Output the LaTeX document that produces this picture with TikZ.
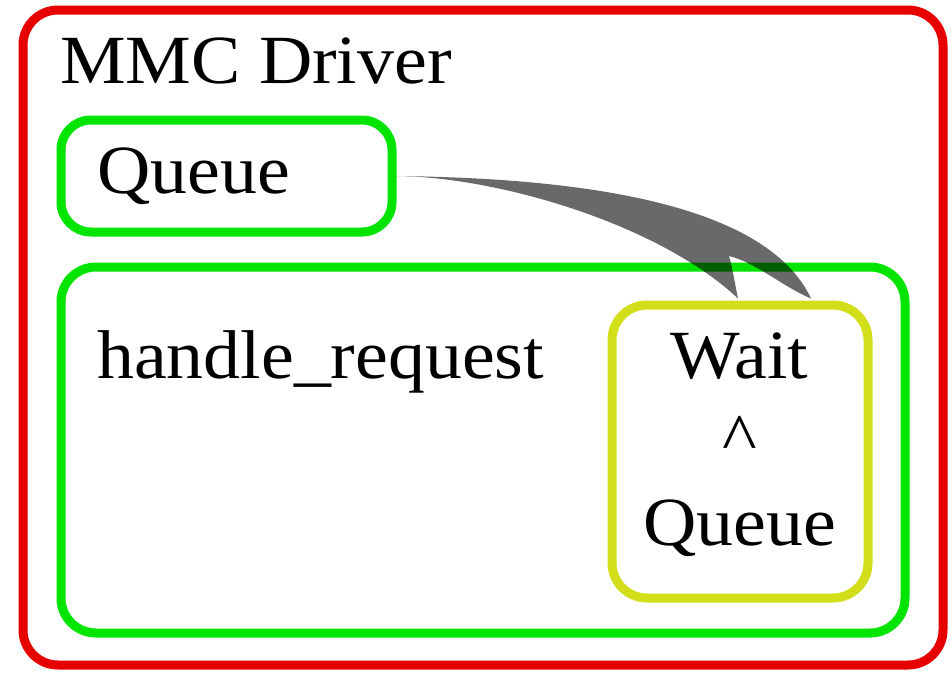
\documentclass[tikz,border=0pt]{standalone}
\usepackage{fontspec}
\setmainfont{Liberation Serif}[FakeStretch=1.07]
\usetikzlibrary{calc}
\definecolor{boxred}{RGB}{230,0,0}
\definecolor{boxgreen}{RGB}{0,228,0}
\definecolor{boxyellow}{RGB}{210,222,26}
\tikzset{
  box/.style={draw, line width=9pt, rounded corners=#1, inner sep=0pt, fill=none},
  lbl/.style={inner sep=0pt, anchor=base west, font=\fontsize{69}{80}\selectfont},
  clbl/.style={inner sep=0pt, anchor=base, font=\fontsize{69}{80}\selectfont},
  flow/.style={fill=black, fill opacity=0.59, draw=none}
}
\begin{document}
\begin{tikzpicture}[x=1pt,y=1pt]
\useasboundingbox (0,0) rectangle (952,-672);
\node[box=35pt, draw=boxred, minimum width=920pt, minimum height=655pt] (outer) at (483,-337.5) {};
\node[box=30pt, draw=boxgreen, minimum width=331pt, minimum height=112pt] (queue) at (226.5,-176) {};
\node[box=35pt, draw=boxgreen, minimum width=844pt, minimum height=366pt] (handle) at (483,-450) {};
\node[box=35pt, draw=boxyellow, minimum width=256pt, minimum height=293pt] (wait) at (740,-451.5) {};
\node[lbl] (tmmc) at (60,-83) {MMC Driver};
\node[lbl] (tqueue) at (97,-193) {Queue};
\node[lbl] (thandle) at (97,-378) {handle\_request};
\node[clbl] (tw1) at (739.5,-378) {Wait};
\node[clbl] (tw2) at (739.5,-461) {\textasciicircum};
\node[clbl] (tw3) at (739.5,-545) {Queue};
\coordinate (s) at (queue.east);
\coordinate (t1) at ([xshift=-2pt,yshift=2pt]wait.north);
\coordinate (t2) at ([xshift=71pt,yshift=2pt]wait.north);
\coordinate (n) at (729,-256);
\fill[flow] (s) .. controls (570,-178) and (765,-200) .. (t2)
  .. controls (785,-288) and (755,-262) .. (n)
  .. controls (733,-270) and (736,-290) .. (t1)
  .. controls (660,-225) and (500,-177) .. (s) -- cycle;
\end{tikzpicture}
\end{document}
